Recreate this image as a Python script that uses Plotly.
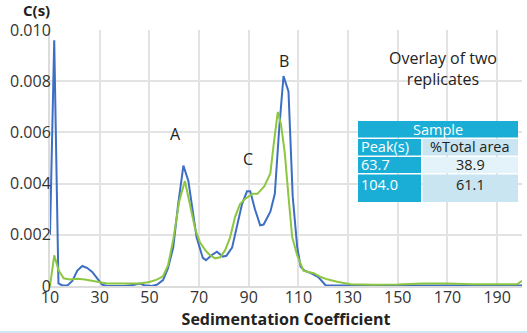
import plotly.graph_objects as go

# ---- data ----
blue_x = [10, 11.7, 13.4, 15, 17, 19, 21, 23, 25, 27, 29, 31, 33, 40, 44, 46, 48, 51, 53,
          55.5, 57.5, 59.6, 61.6, 63.7, 65.7, 67.5, 69, 71.5, 72.8, 75, 77.2, 79.5, 81,
          83.3, 85.5, 87.3, 89.3, 90.6, 92.5, 94.6, 96, 98.7, 100.5, 102.3, 104, 106,
          107.7, 109.5, 110.9, 112.5, 115, 118, 121, 130, 150, 170, 190, 200]
blue_y = [0.0020, 0.0096, 0.0001, 0.00002, 0.00002, 0.0002, 0.0006, 0.00078, 0.0007, 0.00055,
          0.0003, 0.00005, 0.0, 0.0, 0.00005, 0.0001, 0.00003, 0.0, 0.00005,
          0.00023, 0.0007, 0.0015, 0.0032, 0.0047, 0.0041, 0.0030, 0.0019, 0.0011, 0.00101,
          0.0012, 0.00134, 0.00115, 0.00118, 0.0015, 0.0024, 0.0032, 0.0037, 0.0037, 0.0030,
          0.00237, 0.0024, 0.0029, 0.0036, 0.0062, 0.0082, 0.0076, 0.0035, 0.00153, 0.00075,
          0.0006, 0.0005, 0.00035, 0.00002, 0.00002, 0.00002, 0.00002, 0.00002, 0.00002]

green_x = [10, 11.7, 13.5, 15.5, 18, 21, 24, 27, 30, 33, 40, 46, 50, 53, 55.5, 57.5, 59.6,
           62, 64.3, 66.4, 68.5, 70.4, 72.5, 74.4, 76.5, 78.5, 80.5, 82.5, 84.5, 86.5, 88.5,
           91.5, 93.5, 96.3, 98.7, 100, 101.7, 103, 104.5, 106, 107.5, 109.5, 112, 114, 116.2,
           119, 121.6, 125.6, 131, 140, 150, 160, 170, 180, 190, 198, 200]
green_y = [0.0, 0.0012, 0.0006, 0.0003, 0.00025, 0.00028, 0.00025, 0.0002, 0.00015, 0.0001,
           0.0001, 0.0001, 0.00016, 0.00025, 0.00038, 0.0008, 0.0018,
           0.0033, 0.0041, 0.0031, 0.0022, 0.0017, 0.0014, 0.0012, 0.00108, 0.00112, 0.0014,
           0.0019, 0.0027, 0.0032, 0.0034, 0.0036, 0.0036, 0.0039, 0.0044, 0.0055, 0.0068,
           0.0063, 0.0052, 0.0035, 0.0019, 0.0012, 0.0006, 0.00055, 0.0005,
           0.00035, 0.00026, 0.00017, 0.00007, 0.00005, 0.00006, 0.0001, 0.0001, 0.00007,
           0.00006, 0.00007, 0.0002]

x_ticks = [10, 30, 50, 70, 90, 110, 130, 150, 170, 190]
y_ticks = [0, 0.002, 0.004, 0.006, 0.008, 0.010]
y_tick_text = ["0", "0.002", "0.004", "0.006", "0.008", "0.010"]

peak_labels = ["A", "C", "B"]
peak_label_x = [60.6, 89.8, 104.3]
peak_label_y = [0.00595, 0.00498, 0.0088]

table_title = "Sample"
table_header = ["Peak(s)", "%Total area"]
table_peaks = ["63.7", "104.0"]
table_areas = ["38.9", "61.1"]

# ---- figure ----
W, H = 527, 333
ML, MR, MT, MB = 50, 5, 30, 47
PW, PH = W - ML - MR, H - MT - MB
FONT = "Open Sans, sans-serif"
CYAN = "#1aaed6"
LIGHT1 = "#c8e5f1"
LIGHT2 = "#e4f3f9"


def px(xp):
    return (xp - ML) / PW


def py(yp):
    return (H - MB - yp) / PH


fig = go.Figure()
fig.add_trace(go.Scatter(x=blue_x, y=blue_y, mode="lines",
                         line=dict(color="#3d6ec4", width=2), hoverinfo="skip"))
fig.add_trace(go.Scatter(x=green_x, y=green_y, mode="lines",
                         line=dict(color="#8dc640", width=2), hoverinfo="skip"))

annotations = []
for t, xx, yy in zip(peak_labels, peak_label_x, peak_label_y):
    annotations.append(dict(x=xx, y=yy, xref="x", yref="y", text=t, showarrow=False,
                            xanchor="center", yanchor="middle",
                            font=dict(size=16, color="#222", family=FONT)))

annotations.append(dict(x=px(36), y=py(10), xref="paper", yref="paper", text="<b>C(s)</b>",
                        showarrow=False, xanchor="center", yanchor="middle",
                        font=dict(size=15, color="#222", family=FONT)))
annotations.append(dict(x=px(443), y=py(68), xref="paper", yref="paper",
                        text="Overlay of two<br>replicates", showarrow=False,
                        xanchor="center", yanchor="middle",
                        font=dict(size=16, color="#222", family=FONT)))

shapes = []


def cell(x0, y0, x1, y1, color):
    shapes.append(dict(type="rect", xref="paper", yref="paper", x0=px(x0), x1=px(x1),
                       y0=py(y1), y1=py(y0), fillcolor=color, line=dict(width=0), layer="above"))


def txt(xp, yp, text, color, anchor="center"):
    annotations.append(dict(x=px(xp), y=py(yp), xref="paper", yref="paper", text=text,
                            showarrow=False, xanchor=anchor, yanchor="middle",
                            font=dict(size=14.5, color=color, family=FONT)))


# header
cell(358, 121, 518, 137.5, CYAN)
txt(438, 129, table_title, "white")
rows = [(139, 155.5), (157, 173), (174.5, 202)]
col2_colors = [LIGHT1, LIGHT2, LIGHT1]
c1 = [table_header[0]] + table_peaks
c2 = [table_header[1]] + table_areas
for (y0, y1), a, b, cc in zip(rows, c1, c2, col2_colors):
    cell(358, y0, 421, y1, CYAN)
    cell(422.5, y0, 518, y1, cc)
    ty = (y0 + y1) / 2 - 0.5 if y1 - y0 < 20 else y0 + 10
    txt(359, ty, a, "white", anchor="left")
    txt(470, ty, b, "#222")

# bottom light-blue separator
shapes.append(dict(type="line", xref="paper", yref="paper", x0=-ML / PW, x1=1 + MR / PW,
                   y0=py(332), y1=py(332), line=dict(color="#cfe4f4", width=2)))

fig.update_layout(
    width=W, height=H,
    margin=dict(l=ML, r=MR, t=MT, b=MB),
    paper_bgcolor="white", plot_bgcolor="white",
    showlegend=False,
    font=dict(family=FONT, color="#333", size=16),
    annotations=annotations, shapes=shapes,
    xaxis=dict(range=[10, 200], tickvals=x_ticks, showgrid=True, gridcolor="#e3e3e3",
               gridwidth=2, zeroline=False, showline=True, linecolor="#dcdcdc", linewidth=2,
               ticks="", tickfont=dict(size=16, color="#333", family=FONT),
               ticklabelstandoff=-4,
               title=dict(text="<b>Sedimentation Coefficient</b>", standoff=1,
                          font=dict(size=16, color="#222", family=FONT))),
    yaxis=dict(range=[0, 0.010], tickvals=y_ticks, ticktext=y_tick_text, showgrid=True,
               gridcolor="#e3e3e3", gridwidth=2, zeroline=False, showline=True,
               linecolor="#dcdcdc", linewidth=2, ticks="", ticklen=0,
               ticklabelstandoff=-6,
               tickfont=dict(size=16, color="#333", family=FONT)),
)

fig.write_html("out.html")
